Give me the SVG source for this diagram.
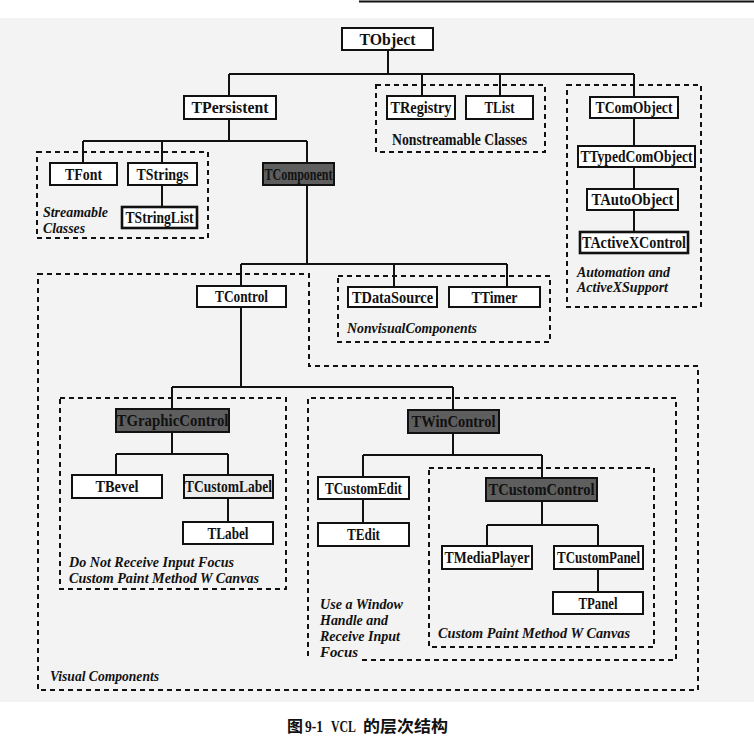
<svg xmlns="http://www.w3.org/2000/svg" width="754" height="750" viewBox="0 0 754 750">
<style>
.bg{fill:#f3f3f3}
.box{fill:#fff;stroke:#111;stroke-width:2}
.dark{fill:#5e5e5e;stroke:#111;stroke-width:2}
.thick{stroke-width:2.6}
.lbl{font-family:"Liberation Serif","Times New Roman",serif;font-weight:bold;font-size:16px;fill:#111;text-anchor:middle}
.note{font-family:"Liberation Serif","Times New Roman",serif;font-weight:bold;font-style:italic;font-size:15px;fill:#111}
.plain{font-family:"Liberation Serif","Times New Roman",serif;font-weight:bold;font-size:16px;fill:#111}
.dash{fill:none;stroke:#111;stroke-width:2;stroke-dasharray:5 4}
.conn{fill:none;stroke:#111;stroke-width:2}
.cap{font-size:16px;fill:#111;font-weight:bold}
</style>
<rect x="0" y="0" width="754" height="750" fill="#fff"/>
<rect class="bg" x="0" y="18" width="754" height="684"/>
<line x1="359" y1="1.5" x2="754" y2="1.5" stroke="#111" stroke-width="2"/>

<g id="groups">
  <rect id="g-streamable" class="dash" x="37" y="152" width="171" height="86"/>
  <rect id="g-nonstreamable" class="dash" x="376" y="85" width="169" height="67"/>
  <rect id="g-automation" class="dash" x="567" y="85" width="134" height="222"/>
  <rect id="g-nonvisual" class="dash" x="338" y="276" width="212" height="66"/>
  <path id="g-visual" class="dash" d="M38,274 H309 V366 H698 V690 H38 Z"/>
  <rect id="g-noinput" class="dash" x="60" y="398" width="226" height="191"/>
  <path id="g-window" class="dash" d="M362,660 H676 V398 H308 V660"/>
  <rect id="g-custompaint" class="dash" x="429" y="468" width="225" height="179"/>
</g>

<g id="connectors" class="conn">
  <path d="M388,50 V74 M229,74 H634 M229,74 V96 M422,74 V96 M500,74 V96 M634,74 V97"/>
  <path d="M229,119 V141 M83,141 H307 M83,141 V163 M162,141 V163 M307,141 V163"/>
  <path d="M162,185 V207"/>
  <path d="M634,118 V146 M634,167 V189 M634,210 V232"/>
  <path d="M307,185 V264 M241,264 H507 M241,264 V286 M394,264 V287 M507,264 V287"/>
  <path d="M241,307 V387 M172,387 H453 M172,387 V409 M453,387 V410"/>
  <path d="M172,432 V454 M116,454 H228 M116,454 V475 M228,454 V475 M228,498 V522"/>
  <path d="M453,433 V455 M363,455 H542 M363,455 V477 M542,455 V478 M363,499 V523"/>
  <path d="M542,501 V525 M487,525 H598 M487,525 V546 M598,525 V546 M598,569 V592"/>
</g>

<g id="n-tobject"><rect class="box" x="342" y="28" width="91" height="22"/><text class="lbl" x="387.5" y="44.5" textLength="56" lengthAdjust="spacingAndGlyphs">TObject</text></g>
<g id="n-tpersistent"><rect class="box" x="184" y="96" width="92" height="23"/><text class="lbl" x="230" y="113" textLength="77" lengthAdjust="spacingAndGlyphs">TPersistent</text></g>
<g id="n-tregistry"><rect class="box" x="387" y="96" width="68" height="23"/><text class="lbl" x="421" y="113" textLength="61" lengthAdjust="spacingAndGlyphs">TRegistry</text></g>
<g id="n-tlist"><rect class="box" x="466" y="96" width="67" height="23"/><text class="lbl" x="499.5" y="113" textLength="30" lengthAdjust="spacingAndGlyphs">TList</text></g>
<g id="n-tcomobject"><rect class="box" x="590" y="97" width="88" height="21"/><text class="lbl" x="634" y="113" textLength="77" lengthAdjust="spacingAndGlyphs">TComObject</text></g>
<g id="n-ttypedcomobject"><rect class="box" x="578" y="146" width="117" height="21"/><text class="lbl" x="636.5" y="162" textLength="112" lengthAdjust="spacingAndGlyphs">TTypedComObject</text></g>
<g id="n-tautoobject"><rect class="box" x="587" y="189" width="91" height="21"/><text class="lbl" x="632.5" y="205" textLength="82" lengthAdjust="spacingAndGlyphs">TAutoObject</text></g>
<g id="n-tactivexcontrol"><rect class="box thick" x="580" y="232" width="108" height="21"/><text class="lbl" x="634" y="248" textLength="104" lengthAdjust="spacingAndGlyphs">TActiveXControl</text></g>
<g id="n-tfont"><rect class="box" x="50" y="163" width="67" height="22"/><text class="lbl" x="83.5" y="179.5" textLength="37" lengthAdjust="spacingAndGlyphs">TFont</text></g>
<g id="n-tstrings"><rect class="box" x="128" y="163" width="69" height="22"/><text class="lbl" x="162.5" y="179.5" textLength="52" lengthAdjust="spacingAndGlyphs">TStrings</text></g>
<g id="n-tstringlist"><rect class="box thick" x="122" y="207" width="75" height="21"/><text class="lbl" x="159.5" y="223" textLength="68" lengthAdjust="spacingAndGlyphs">TStringList</text></g>
<g id="n-tcomponent"><rect class="dark" x="263" y="163" width="71" height="22"/><text class="lbl" x="298.5" y="179.5" textLength="68" lengthAdjust="spacingAndGlyphs">TComponent</text></g>
<g id="n-tcontrol"><rect class="box" x="197" y="286" width="89" height="21"/><text class="lbl" x="241.5" y="302" textLength="53" lengthAdjust="spacingAndGlyphs">TControl</text></g>
<g id="n-tdatasource"><rect class="box" x="348" y="287" width="89" height="20"/><text class="lbl" x="392.5" y="302.5" textLength="81" lengthAdjust="spacingAndGlyphs">TDataSource</text></g>
<g id="n-ttimer"><rect class="box" x="449" y="287" width="91" height="20"/><text class="lbl" x="494.5" y="302.5" textLength="46" lengthAdjust="spacingAndGlyphs">TTimer</text></g>
<g id="n-tgraphiccontrol"><rect class="dark" x="116" y="409" width="113" height="23"/><text class="lbl" x="172.5" y="426" textLength="112" lengthAdjust="spacingAndGlyphs">TGraphicControl</text></g>
<g id="n-tbevel"><rect class="box" x="72" y="475" width="90" height="23"/><text class="lbl" x="117" y="492" textLength="43" lengthAdjust="spacingAndGlyphs">TBevel</text></g>
<g id="n-tcustomlabel"><rect class="box" x="184" y="475" width="89" height="23" style="fill:#ececec"/><text class="lbl" x="228.5" y="492" textLength="87" lengthAdjust="spacingAndGlyphs">TCustomLabel</text></g>
<g id="n-tlabel"><rect class="box" x="183" y="522" width="90" height="22"/><text class="lbl" x="228" y="538.5" textLength="41" lengthAdjust="spacingAndGlyphs">TLabel</text></g>
<g id="n-twincontrol"><rect class="dark" x="408" y="410" width="91" height="23"/><text class="lbl" x="453.5" y="427" textLength="84" lengthAdjust="spacingAndGlyphs">TWinControl</text></g>
<g id="n-tcustomedit"><rect class="box" x="318" y="477" width="91" height="22"/><text class="lbl" x="363.5" y="493.5" textLength="77" lengthAdjust="spacingAndGlyphs">TCustomEdit</text></g>
<g id="n-tedit"><rect class="box" x="318" y="523" width="91" height="23"/><text class="lbl" x="363.5" y="540" textLength="33" lengthAdjust="spacingAndGlyphs">TEdit</text></g>
<g id="n-tcustomcontrol"><rect class="dark" x="486" y="478" width="111" height="23"/><text class="lbl" x="541.5" y="495" textLength="106" lengthAdjust="spacingAndGlyphs">TCustomControl</text></g>
<g id="n-tmediaplayer"><rect class="box" x="442" y="546" width="90" height="23"/><text class="lbl" x="487" y="563" textLength="85" lengthAdjust="spacingAndGlyphs">TMediaPlayer</text></g>
<g id="n-tcustompanel"><rect class="box" x="554" y="546" width="89" height="23"/><text class="lbl" x="598.5" y="563" textLength="83" lengthAdjust="spacingAndGlyphs">TCustomPanel</text></g>
<g id="n-tpanel"><rect class="box" x="553" y="592" width="90" height="22"/><text class="lbl" x="598" y="608.5" textLength="39" lengthAdjust="spacingAndGlyphs">TPanel</text></g>

<g id="labels">
  <text class="plain" x="392" y="145" textLength="135" lengthAdjust="spacingAndGlyphs">Nonstreamable Classes</text>
  <text class="note" x="43" y="217" textLength="65" lengthAdjust="spacingAndGlyphs">Streamable</text>
  <text class="note" x="43" y="233" textLength="42" lengthAdjust="spacingAndGlyphs">Classes</text>
  <text class="note" x="577" y="277" textLength="93" lengthAdjust="spacingAndGlyphs">Automation and</text>
  <text class="note" x="577" y="292" textLength="91" lengthAdjust="spacingAndGlyphs">ActiveXSupport</text>
  <text class="note" x="347" y="333" textLength="130" lengthAdjust="spacingAndGlyphs">NonvisualComponents</text>
  <text class="note" x="69" y="567" textLength="165" lengthAdjust="spacingAndGlyphs">Do Not Receive Input Focus</text>
  <text class="note" x="69" y="583" textLength="190" lengthAdjust="spacingAndGlyphs">Custom Paint Method W Canvas</text>
  <text class="note" x="320" y="609" textLength="83" lengthAdjust="spacingAndGlyphs">Use a Window</text>
  <text class="note" x="320" y="625" textLength="68" lengthAdjust="spacingAndGlyphs">Handle and</text>
  <text class="note" x="320" y="641" textLength="80" lengthAdjust="spacingAndGlyphs">Receive Input</text>
  <text class="note" x="320" y="657" textLength="38" lengthAdjust="spacingAndGlyphs">Focus</text>
  <text class="note" x="438" y="638" textLength="192" lengthAdjust="spacingAndGlyphs">Custom Paint Method W Canvas</text>
  <text class="note" x="50" y="681" textLength="109" lengthAdjust="spacingAndGlyphs">Visual Components</text>
</g>

<g id="caption" class="cap">
  <text x="287" y="732" font-family="'Noto Sans CJK SC',sans-serif">图</text>
  <text x="305" y="732" font-family="'Liberation Serif',serif" textLength="18" lengthAdjust="spacingAndGlyphs">9-1</text>
  <text x="331" y="732" font-family="'Liberation Serif',serif" textLength="25" lengthAdjust="spacingAndGlyphs">VCL</text>
  <text x="363" y="732" font-family="'Noto Sans CJK SC',sans-serif" textLength="85" lengthAdjust="spacingAndGlyphs">的层次结构</text>
</g>
</svg>
